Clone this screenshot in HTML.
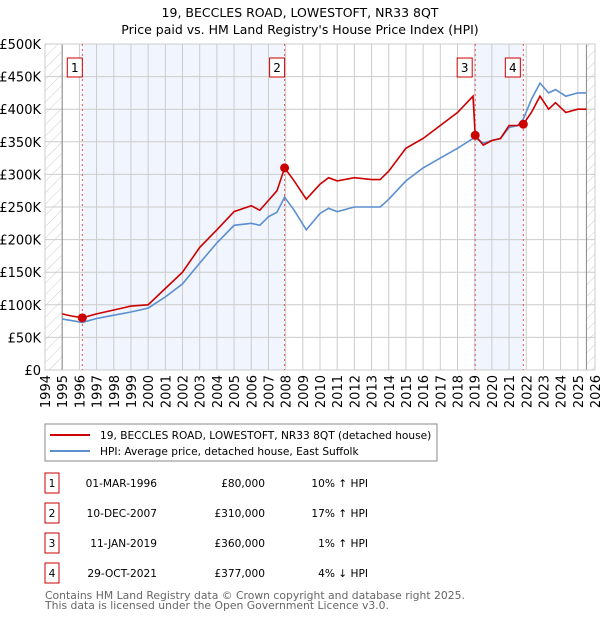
<!DOCTYPE html>
<html><head><meta charset="utf-8">
<style>
body{margin:0;background:#fff;font-family:"DejaVu Sans","Liberation Sans",sans-serif;}
svg text{font-family:"DejaVu Sans","Liberation Sans",sans-serif;}
</style></head>
<body>
<svg id="chart" width="600" height="620" viewBox="0 0 600 620" xmlns="http://www.w3.org/2000/svg">
<defs>
<pattern id="hatch" patternUnits="userSpaceOnUse" width="8" height="8" patternTransform="rotate(45)">
<line x1="0" y1="0" x2="0" y2="8" stroke="#ccc" stroke-width="1"/>
</pattern>
</defs>
<text x="300" y="17" text-anchor="middle" font-size="12.5">19, BECCLES ROAD, LOWESTOFT, NR33 8QT</text>
<text x="300" y="34" text-anchor="middle" font-size="12.5">Price paid vs. HM Land Registry's House Price Index (HPI)</text>
<g id="plot"></g>
<g>
<rect x="45" y="424" width="392" height="37" fill="#fff" stroke="#888"/>
<line x1="50" y1="435" x2="90" y2="435" stroke="#cc0000" stroke-width="2"/>
<text x="100" y="439" font-size="10.6">19, BECCLES ROAD, LOWESTOFT, NR33 8QT (detached house)</text>
<line x1="50" y1="451" x2="90" y2="451" stroke="#5b8fd0" stroke-width="2"/>
<text x="100" y="455" font-size="10.6">HPI: Average price, detached house, East Suffolk</text>
</g>
<g id="table" font-size="10.6"></g>
<text x="45" y="599" font-size="10.8" fill="#666">Contains HM Land Registry data © Crown copyright and database right 2025.</text>
<text x="45" y="609" font-size="10.8" fill="#666">This data is licensed under the Open Government Licence v3.0.</text>
</svg>
<script>
const years=[1995,1995.5,1996.17,1997,1998,1999,2000,2001,2002,2003,2004,2005,2006,2006.5,2007,2007.5,2007.94,2008.5,2009.2,2010,2010.5,2011,2012,2013,2013.5,2014,2015,2016,2017,2018,2018.9,2019.03,2019.5,2020,2020.5,2021,2021.5,2021.83,2022.3,2022.8,2023.3,2023.7,2024.3,2025,2025.5];
const hpiValues=[78,76,73,79,84,89,95,112,132,164,195,222,225,222,235,242,265,245,215,240,248,243,250,250,250,262,290,310,325,340,355,356,348,352,355,372,375,385,415,440,425,430,420,425,425];
const priceValues=[86,83,80,86,92,98,100,125,150,188,215,243,252,245,260,275,310,290,262,285,295,290,295,292,292,305,340,355,375,395,420,360,345,352,355,375,375,377,395,420,400,410,395,400,400];
const saleYears=[1996.17,2007.94,2019.03,2021.83];
const saleValues=[80,310,360,377];
const saleLabels=["1","2","3","4"];
const saleDates=["01-MAR-1996","10-DEC-2007","11-JAN-2019","29-OCT-2021"];
const salePrices=["£80,000","£310,000","£360,000","£377,000"];
const saleHpi=["10% ↑ HPI","17% ↑ HPI","1% ↑ HPI","4% ↓ HPI"];
const yTicks=[0,50,100,150,200,250,300,350,400,450,500];
const yTickLabels=["£0","£50K","£100K","£150K","£200K","£250K","£300K","£350K","£400K","£450K","£500K"];
const xTicks=[1994,1995,1996,1997,1998,1999,2000,2001,2002,2003,2004,2005,2006,2007,2008,2009,2010,2011,2012,2013,2014,2015,2016,2017,2018,2019,2020,2021,2022,2023,2024,2025,2026];

const NS="http://www.w3.org/2000/svg";
const L=45,R=595,T=44,B=370;
const xs=y=>L+(y-1994)*(R-L)/32;
const ys=v=>B-v*(B-T)/500;
const plot=document.getElementById('plot');
function mk(tag,attrs,parent){const e=document.createElementNS(NS,tag);for(const k in attrs)e.setAttribute(k,attrs[k]);(parent||plot).appendChild(e);return e;}

let bg=mk('rect',{x:L,y:T,width:R-L,height:B-T,fill:'#fff'});


for(let i=0;i<saleYears.length;i+=2){
  let s=mk('rect',{x:xs(saleYears[i]),y:T,width:xs(saleYears[i+1])-xs(saleYears[i]),height:B-T,fill:'#eef3fc',opacity:0.8});
  
  
}
let h1=mk('rect',{x:L,y:T,width:xs(1995)-L,height:B-T,fill:'url(#hatch)'});


let h2=mk('rect',{x:xs(2025.5),y:T,width:R-xs(2025.5),height:B-T,fill:'url(#hatch)'});


yTicks.forEach((v,i)=>{
  let g=mk('line',{x1:L,x2:R,y1:ys(v),y2:ys(v),stroke:'#ccc','stroke-width':1});
  
  
  let t=mk('text',{x:L-4,y:ys(v)+5,'text-anchor':'end','font-size':13});
  
  
  t.textContent=yTickLabels[i];
});
xTicks.forEach(y=>{
  let g=mk('line',{x1:xs(y),x2:xs(y),y1:T,y2:B,stroke:'#ccc','stroke-width':1});
  
  
  let t=mk('text',{x:0,y:0,'text-anchor':'end','font-size':13,transform:`translate(${xs(y)+5},${B+5}) rotate(-90)`});
  
  
  t.textContent=y;
});
let edge1=mk('line',{x1:xs(1995),x2:xs(1995),y1:T,y2:B,stroke:'#888'});


let edge2=mk('line',{x1:xs(2025.5),x2:xs(2025.5),y1:T,y2:B,stroke:'#888'});


let frame=mk('rect',{x:L,y:T,width:R-L,height:B-T,fill:'none',stroke:'#ccc'});


saleYears.forEach((y,i)=>{
  let l=mk('line',{x1:xs(y),x2:xs(y),y1:T,y2:B,stroke:'#e05050','stroke-dasharray':'2,3','stroke-width':1});
  
  
  let bx=xs(y)-(i==2||i==3?17:14);
  let r=mk('rect',{x:bx-1,y:58,width:15,height:19,fill:'#fff',stroke:'#cc0000'});
  
  
  let t=mk('text',{x:bx+6.5,y:72,'text-anchor':'middle','font-size':12});
  
  
  t.textContent=saleLabels[i];
});
function pathOf(vals){return vals.map((v,i)=>(i?'L':'M')+xs(years[i]).toFixed(1)+','+ys(v).toFixed(1)).join('');}
let hp=mk('path',{d:pathOf(hpiValues),fill:'none',stroke:'#5b8fd0','stroke-width':1.6});


let pp=mk('path',{d:pathOf(priceValues),fill:'none',stroke:'#cc0000','stroke-width':1.6});


saleYears.forEach((y,i)=>{
  let c=mk('circle',{cx:xs(y),cy:ys(saleValues[i]),r:4.5,fill:'#cc0000'});
  
  
});
const tbl=document.getElementById('table');
const rowY=[483,513,543,573];
saleLabels.forEach((lab,i)=>{
  let y=rowY[i];
  let r=mk('rect',{x:45,y:y-10,width:14,height:20,fill:'#fff',stroke:'#cc0000'},tbl);
  
  
  let t=mk('text',{x:52,y:y+4,'text-anchor':'middle'},tbl);
  
  
  t.textContent=lab;
  let d=mk('text',{x:157,y:y+4,'text-anchor':'end'},tbl);
  
  
  d.textContent=saleDates[i];
  let p=mk('text',{x:265,y:y+4,'text-anchor':'end'},tbl);
  
  
  p.textContent=salePrices[i];
  let hh=mk('text',{x:368,y:y+4,'text-anchor':'end'},tbl);
  
  
  hh.textContent=saleHpi[i];
});
</script>
</body></html>
